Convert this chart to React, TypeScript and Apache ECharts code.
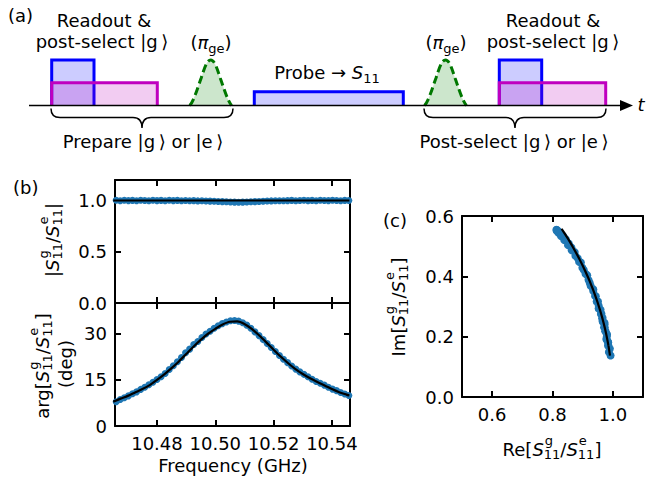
import React, { useEffect, useRef } from "react";
import * as echarts from "echarts";

const FONT = '"DejaVu Sans", sans-serif';

// ---- measured data (panel b / c) ----
const freq = [
  10.466, 10.4674, 10.4688, 10.4702, 10.4716, 10.473, 10.4744, 10.4758, 10.4772, 10.4786,
  10.48, 10.4814, 10.4828, 10.4842, 10.4856, 10.487, 10.4884, 10.4898, 10.4912, 10.4926,
  10.494, 10.4954, 10.4968, 10.4982, 10.4996, 10.501, 10.5024, 10.5038, 10.5052, 10.5066,
  10.508, 10.5094, 10.5108, 10.5122, 10.5136, 10.515, 10.5164, 10.5178, 10.5192, 10.5206,
  10.522, 10.5234, 10.5248, 10.5262, 10.5276, 10.529, 10.5304, 10.5318, 10.5332, 10.5346,
  10.536, 10.5374, 10.5388, 10.5402, 10.5416, 10.543, 10.5444, 10.5458,
];
const phaseData = [
  7.9, 8.6, 9.2, 9.8, 10.5, 11.1, 11.9, 12.6, 13.4, 14.2,
  15.1, 16.0, 17.1, 18.4, 19.6, 20.9, 22.3, 23.8, 25.0, 26.5,
  27.5, 28.8, 29.9, 30.8, 31.8, 32.6, 33.3, 33.8, 34.2, 34.3,
  34.1, 33.6, 32.8, 31.8, 30.6, 29.4, 28.1, 26.8, 25.5, 24.2,
  22.9, 21.7, 20.6, 19.5, 18.5, 17.6, 16.8, 16.0, 15.2, 14.5,
  13.9, 13.3, 12.6, 12.0, 11.5, 10.9, 10.4, 9.9,
];
const magData = [
  1.002, 0.998, 1.003, 0.999, 1.001, 0.997, 1.002, 1.0, 0.998, 1.003,
  0.999, 1.001, 0.997, 1.002, 0.999, 1.001, 0.998, 1.0, 0.997, 0.999,
  0.996, 0.997, 0.995, 0.994, 0.993, 0.991, 0.989, 0.987, 0.985, 0.984,
  0.983, 0.984, 0.985, 0.987, 0.989, 0.991, 0.993, 0.995, 0.996, 0.997,
  0.998, 0.997, 0.999, 1.001, 0.998, 1.0, 1.002, 0.999, 1.001, 0.998,
  1.002, 1.0, 0.999, 1.002, 1.0, 0.998, 1.001, 1.0,
];
// ---- fit curve ----
const fitFreq = [
  10.465, 10.4675, 10.47, 10.4725, 10.475, 10.4775, 10.48, 10.4825, 10.485, 10.4875,
  10.49, 10.4925, 10.495, 10.4975, 10.5, 10.5025, 10.505, 10.5075, 10.51, 10.5125,
  10.515, 10.5175, 10.52, 10.5225, 10.525, 10.5275, 10.53, 10.5325, 10.535, 10.5375,
  10.54, 10.5425, 10.545, 10.546,
];
const fitPhase = [
  7.9, 8.9, 9.8, 10.9, 12.0, 13.3, 15.0, 16.8, 18.8, 21.0,
  23.4, 25.8, 28.0, 30.0, 31.6, 33.0, 33.9, 34.0, 33.2, 31.6,
  29.5, 27.2, 24.8, 22.5, 20.4, 18.5, 16.9, 15.5, 14.3, 13.2,
  12.0, 11.0, 10.2, 9.9,
];
const magFit = [
  1, 1, 1, 1, 1, 1, 1, 1, 1, 1, 1, 1, 1, 1, 1, 1, 1,
  1, 1, 1, 1, 1, 1, 1, 1, 1, 1, 1, 1, 1, 1, 1, 1, 1,
];
// ---- ticks ----
const freqTicks = [10.48, 10.5, 10.52, 10.54];
const magTicks = [0, 0.5, 1.0];
const phaseTicks = [0, 15, 30];
const reTicks = [0.6, 0.8, 1.0];
const imTicks = [0, 0.2, 0.4, 0.6];

type Piece = { t?: string; it?: boolean; sup?: string; sub?: string };

function buildLabel(
  ctx: CanvasRenderingContext2D,
  pieces: Piece[],
  cx: number,
  cy: number,
  rotation = 0,
  size = 18,
  supDy = -9,
  subDy = 5
) {
  const ss = 13;
  const kids: any[] = [];
  let x = 0;
  const mw = (s: string, sz: number, it: boolean) => {
    ctx.font = `${it ? "italic " : ""}${sz}px ${FONT}`;
    return ctx.measureText(s).width;
  };
  for (const p of pieces) {
    if (p.t) {
      kids.push({
        type: "text",
        x,
        y: 0,
        silent: true,
        style: {
          text: p.t,
          font: `${p.it ? "italic " : ""}${size}px ${FONT}`,
          fill: "#000",
          textAlign: "left",
          textVerticalAlign: "middle",
        },
      });
      x += mw(p.t, size, !!p.it);
    }
    let w = 0;
    if (p.sup) {
      kids.push({
        type: "text",
        x: x + 1,
        y: supDy,
        silent: true,
        style: { text: p.sup, font: `${ss}px ${FONT}`, fill: "#000", textAlign: "left", textVerticalAlign: "middle" },
      });
      w = Math.max(w, mw(p.sup, ss, false) + 1);
    }
    if (p.sub) {
      kids.push({
        type: "text",
        x,
        y: subDy,
        silent: true,
        style: { text: p.sub, font: `${ss}px ${FONT}`, fill: "#000", textAlign: "left", textVerticalAlign: "middle" },
      });
      w = Math.max(w, mw(p.sub, ss, false));
    }
    x += w;
  }
  for (const k of kids) k.x -= x / 2;
  return { type: "group", x: cx, y: cy, rotation, children: kids };
}

function plainText(text: string, x: number, y: number, align = "center", italic = false) {
  return {
    type: "text",
    x,
    y,
    silent: true,
    style: {
      text,
      font: `${italic ? "italic " : ""}18px ${FONT}`,
      fill: "#000",
      textAlign: align,
      textVerticalAlign: "middle",
    },
  };
}

const BASE = 105.5;

function pulseRect(x1: number, x2: number, top: number, stroke: string, fill: string) {
  const pts = [
    [x1, BASE],
    [x1, top],
    [x2, top],
    [x2, BASE],
  ];
  return [
    { type: "polygon", silent: true, shape: { points: pts }, style: { fill, stroke: "none" } },
    { type: "polyline", silent: true, shape: { points: pts }, style: { stroke, lineWidth: 3, fill: "none" } },
  ];
}

function axisDef(
  grid: number,
  position: string,
  min: number,
  max: number,
  ticks: number[],
  showLabel: boolean,
  fmt: (v: number) => string
) {
  return {
    type: "value",
    gridIndex: grid,
    position,
    min,
    max,
    axisLine: { show: true, onZero: false, lineStyle: { color: "#000", width: 2 } },
    axisTick: { show: true, inside: true, length: 6, customValues: ticks, lineStyle: { color: "#000", width: 2 } },
    axisLabel: {
      show: showLabel,
      customValues: ticks,
      formatter: fmt,
      color: "#000",
      fontSize: 18,
      fontFamily: FONT,
      margin: 8,
    },
    splitLine: { show: false },
  };
}

const KET_G = "|g\u2009\u27E9";
const KET_E = "|e\u2009\u27E9";

export default function App() {
  const ref = useRef<HTMLDivElement>(null);

  useEffect(() => {
    document.body.style.margin = "0";
    if (!ref.current) return;

    echarts.graphic.registerShape(
      "gausspulse",
      echarts.graphic.extendPath(
        "M -21 0 C -17 -4 -13 -18 -9.5 -27.5 C -6.5 -36.5 -4 -45.5 0 -45.5 C 4 -45.5 6.5 -36.5 9.5 -27.5 C 13 -18 17 -4 21 0",
        {}
      ) as any
    );
    echarts.graphic.registerShape(
      "curlybrace",
      echarts.graphic.extendPath(
        "M -91 0 Q -91 9 -82 9 L -9 9 Q 0 9 0 19.5 Q 0 9 9 9 L 82 9 Q 91 9 91 0",
        {}
      ) as any
    );

    const canvas = document.createElement("canvas");
    const ctx = canvas.getContext("2d") as CanvasRenderingContext2D;

    const chart = echarts.init(ref.current, null, { renderer: "svg" });

    const f2 = (v: number) => v.toFixed(2);
    const f1 = (v: number) => v.toFixed(1);
    const f0 = (v: number) => String(Math.round(v));

    const ratioPieces = (pre: string, post: string): Piece[] => [
      { t: pre },
      { t: "S", it: true, sup: "g", sub: "11" },
      { t: "/" },
      { t: "S", it: true, sup: "e", sub: "11" },
      { t: post },
    ];

    const gaussEl = (cx: number) => ({
      type: "gausspulse",
      x: cx,
      y: BASE,
      silent: true,
      style: { fill: "rgba(0,128,0,0.2)", stroke: "#007800", lineWidth: 3, lineDash: [8, 4] },
    });

    const graphics: any[] = [
      plainText("(a)", 8, 15, "left"),
      plainText("(b)", 13, 187, "left"),
      plainText("(c)", 383, 220, "left"),
      ...pulseRect(51.7, 94, 60, "#0000ff", "rgba(0,0,255,0.2)"),
      ...pulseRect(51.7, 157.3, 82.7, "#bf00bf", "rgba(191,0,191,0.2)"),
      gaussEl(210.7),
      ...pulseRect(254.3, 403.3, 91.7, "#0000ff", "rgba(0,0,255,0.2)"),
      gaussEl(445.5),
      ...pulseRect(499.3, 541.7, 60, "#0000ff", "rgba(0,0,255,0.2)"),
      ...pulseRect(499.3, 605.7, 82.7, "#bf00bf", "rgba(191,0,191,0.2)"),
      {
        type: "line",
        silent: true,
        shape: { x1: 29, y1: BASE, x2: 622, y2: BASE },
        style: { stroke: "#000", lineWidth: 1.5 },
      },
      {
        type: "polygon",
        silent: true,
        shape: { points: [[633, BASE], [620, BASE - 5.5], [620, BASE + 5.5]] },
        style: { fill: "#000" },
      },
      plainText("t", 641, 104, "center", true),
      { type: "curlybrace", x: 142, y: 108.5, silent: true, style: { stroke: "#000", lineWidth: 1.5, fill: "none" } },
      { type: "curlybrace", x: 515, y: 108.5, silent: true, style: { stroke: "#000", lineWidth: 1.5, fill: "none" } },
      plainText("Readout &", 104, 20),
      plainText("post-select " + KET_G, 102, 41),
      buildLabel(ctx, [{ t: "(" }, { t: "\u03C0", it: true, sub: "ge" }, { t: ")" }], 211, 42, 0, 18, -9, 6),
      buildLabel(ctx, [{ t: "Probe \u2192 " }, { t: "S", it: true, sub: "11" }], 327, 72, 0, 18, -9, 6),
      buildLabel(ctx, [{ t: "(" }, { t: "\u03C0", it: true, sub: "ge" }, { t: ")" }], 446, 42, 0, 18, -9, 6),
      plainText("Readout &", 553, 20),
      plainText("post-select " + KET_G, 553, 41),
      plainText("Prepare " + KET_G + " or " + KET_E, 143, 141),
      plainText("Post-select " + KET_G + " or " + KET_E, 514, 141),
      // axis titles
      buildLabel(ctx, ratioPieces("|", "|"), 52.5, 240, Math.PI / 2),
      buildLabel(ctx, ratioPieces("arg[", "]"), 42, 366, Math.PI / 2),
      {
        type: "group",
        x: 65,
        y: 364,
        rotation: Math.PI / 2,
        children: [plainText("(deg)", 0, 0)],
      },
      buildLabel(ctx, ratioPieces("Im[", "]"), 398, 307, Math.PI / 2),
      buildLabel(ctx, ratioPieces("Re[", "]"), 552, 449, 0),
      plainText("Frequency (GHz)", 233, 465),
    ];

    const toRad = Math.PI / 180;
    const reImData = freq.map((_, i) => [
      magData[i] * Math.cos(phaseData[i] * toRad),
      magData[i] * Math.sin(phaseData[i] * toRad),
    ]);
    const reImFit = fitFreq.map((_, i) => [
      magFit[i] * Math.cos(fitPhase[i] * toRad),
      magFit[i] * Math.sin(fitPhase[i] * toRad),
    ]);

    const fMin = 10.4656;
    const fMax = 10.5462;

    chart.setOption({
      animation: false,
      backgroundColor: "#fff",
      textStyle: { fontFamily: FONT },
      grid: [
        { left: 115, top: 180, width: 235, height: 123 },
        { left: 115, top: 303, width: 235, height: 123 },
        { left: 462, top: 216, width: 181, height: 181 },
      ],
      xAxis: [
        axisDef(0, "bottom", fMin, fMax, freqTicks, false, f2),
        axisDef(0, "top", fMin, fMax, freqTicks, false, f2),
        axisDef(1, "bottom", fMin, fMax, freqTicks, true, f2),
        axisDef(1, "top", fMin, fMax, freqTicks, false, f2),
        axisDef(2, "bottom", 0.5, 1.1, reTicks, true, f1),
        axisDef(2, "top", 0.5, 1.1, reTicks, false, f1),
      ],
      yAxis: [
        axisDef(0, "left", 0, 1.2, magTicks, true, f1),
        axisDef(0, "right", 0, 1.2, magTicks, false, f1),
        axisDef(1, "left", 0, 40, phaseTicks, true, f0),
        axisDef(1, "right", 0, 40, phaseTicks, false, f0),
        axisDef(2, "left", 0, 0.6, imTicks, true, f1),
        axisDef(2, "right", 0, 0.6, imTicks, false, f1),
      ],
      series: [
        {
          type: "scatter",
          xAxisIndex: 0,
          yAxisIndex: 0,
          data: freq.map((f, i) => [f, magData[i]]),
          symbolSize: 7,
          itemStyle: { color: "#1f77b4", opacity: 1 },
          z: 2,
        },
        {
          type: "line",
          xAxisIndex: 0,
          yAxisIndex: 0,
          data: fitFreq.map((f, i) => [f, magFit[i]]),
          symbol: "none",
          lineStyle: { color: "#000", width: 2.2 },
          z: 3,
        },
        {
          type: "scatter",
          xAxisIndex: 2,
          yAxisIndex: 2,
          data: freq.map((f, i) => [f, phaseData[i]]),
          symbolSize: 7,
          itemStyle: { color: "#1f77b4", opacity: 1 },
          z: 2,
        },
        {
          type: "line",
          xAxisIndex: 2,
          yAxisIndex: 2,
          data: fitFreq.map((f, i) => [f, fitPhase[i]]),
          symbol: "none",
          smooth: 0.3,
          lineStyle: { color: "#000", width: 2.2 },
          z: 3,
        },
        {
          type: "scatter",
          xAxisIndex: 4,
          yAxisIndex: 4,
          data: reImData,
          symbolSize: 8,
          itemStyle: { color: "#1f77b4", opacity: 1 },
          z: 2,
        },
        {
          type: "line",
          xAxisIndex: 4,
          yAxisIndex: 4,
          data: reImFit,
          symbol: "none",
          lineStyle: { color: "#000", width: 2.2 },
          z: 3,
        },
      ],
      graphic: graphics,
    });

    return () => {
      chart.dispose();
    };
  }, []);

  return <div ref={ref} style={{ width: 646, height: 494 }} />;
}
